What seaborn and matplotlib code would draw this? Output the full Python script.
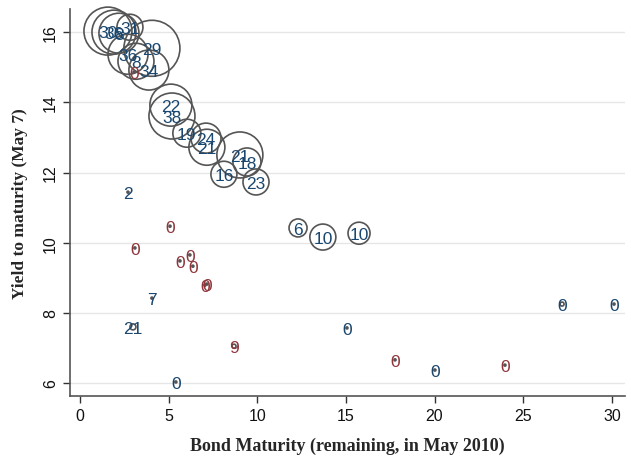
import numpy as np
import pandas as pd
import matplotlib
matplotlib.use("Agg")
import matplotlib.pyplot as plt
import seaborn as sns

# bond maturity (years remaining), yield to maturity, label, weight (circle radius), group
maturity = [1.58, 1.92, 2.20, 2.82,
            2.71, 4.06, 3.16, 3.05, 3.89,
            5.13, 5.19, 6.03, 7.11, 7.16,
            9.02, 9.42, 8.12, 9.93,
            12.30, 13.70, 15.74,
            2.71, 5.08, 3.10, 5.64, 6.20, 6.37, 7.05, 7.16,
            4.06, 2.99, 8.69, 5.41,
            15.06, 17.77, 20.02, 23.97, 27.19, 30.12]
ytm = [16.03, 16.00, 15.97, 16.14,
       15.37, 15.54, 15.17, 14.86, 14.92,
       13.92, 13.61, 13.12, 12.98, 12.72,
       12.50, 12.30, 11.95, 11.73,
       10.42, 10.16, 10.27,
       11.44, 10.47, 9.85, 9.48, 9.65, 9.33, 8.79, 8.82,
       8.42, 7.60, 7.05, 6.03,
       7.57, 6.66, 6.37, 6.51, 8.25, 8.25]
labels = ["30", "36", "8", "31",
          "36", "29", "8", "0", "34",
          "22", "38", "19", "24", "21",
          "21", "18", "16", "23",
          "6", "10", "10",
          "2", "0", "0", "0", "0", "0", "0", "0",
          "7", "21", "9", "0",
          "0", "0", "0", "0", "0", "0"]
weight = [24, 22, 20, 13,
          20, 28, 18, 1, 20,
          21, 23, 14, 15, 18,
          23, 14, 13, 13,
          9, 13, 11,
          1, 1, 1, 1, 1, 1, 1, 1,
          1, 3, 2, 1,
          1, 1, 1, 1, 2, 1]
group = ["b", "b", "b", "b",
         "b", "b", "b", "r", "b",
         "b", "b", "b", "b", "b",
         "b", "b", "b", "b",
         "b", "b", "b",
         "b", "r", "r", "r", "r", "r", "r", "r",
         "b", "b", "r", "b",
         "b", "r", "b", "r", "b", "b"]

df = pd.DataFrame({"maturity": maturity, "ytm": ytm, "label": labels,
                   "weight": weight, "group": group})
df["area"] = (1.44 * df["weight"]) ** 2

sns.set_style("white")
fig = plt.figure(figsize=(6.31, 4.60), dpi=100)
ax = fig.add_axes([70 / 631, 1 - 397 / 460, 555 / 631, 387 / 460])

amin, amax = df["area"].min(), df["area"].max()
sns.scatterplot(data=df, x="maturity", y="ytm", size="area",
                sizes=(amin, amax), size_norm=(amin, amax),
                facecolor="none", edgecolor="#555555", linewidth=1.2,
                legend=False, ax=ax, zorder=3, clip_on=False)

colors = {"b": "#1a476f", "r": "#90353b"}
for _, row in df.iterrows():
    ax.text(row["maturity"], row["ytm"], row["label"], color=colors[row["group"]],
            ha="center", va="center_baseline", fontsize=12.5,
            family="Liberation Sans", zorder=4)

ax.set_xlim(-0.56, 30.74)
ax.set_ylim(5.63, 16.66)
ax.set_xticks([0, 5, 10, 15, 20, 25, 30])
ax.set_yticks([6, 8, 10, 12, 14, 16])
ax.yaxis.grid(True, color="#e6e6e6", linewidth=1)
ax.xaxis.grid(False)
ax.set_axisbelow(True)
for s in ["top", "right"]:
    ax.spines[s].set_visible(False)
for s in ["left", "bottom"]:
    ax.spines[s].set_color("#555555")
    ax.spines[s].set_linewidth(1.2)
ax.tick_params(axis="both", direction="out", length=5, width=1, color="#333333",
               labelsize=11.5, labelcolor="#111111", bottom=True, left=True)
for t in ax.get_xticklabels() + ax.get_yticklabels():
    t.set_family("Liberation Sans")
for t in ax.get_yticklabels():
    t.set_rotation(90)
    t.set_va("center")

ax.set_xlabel("Bond Maturity (remaining, in May 2010)", family="Liberation Serif",
              fontweight="bold", fontsize=13, labelpad=10)
ax.set_ylabel("Yield to maturity (May 7)", family="Liberation Serif",
              fontweight="bold", fontsize=12.5, labelpad=11)

fig.savefig("out.png", dpi=100)
